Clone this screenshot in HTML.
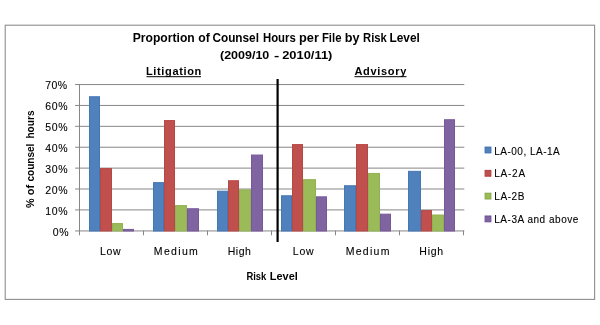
<!DOCTYPE html>
<html><head><meta charset="utf-8"><style>
html,body{margin:0;padding:0;background:#fff;}
svg{display:block;}
text{font-family:"Liberation Sans",sans-serif;fill:#000;}
svg{will-change:transform;}
</style></head><body>
<svg width="600" height="325" viewBox="0 0 600 325">
<rect x="5.2" y="25.2" width="589.4" height="274.2" fill="#fff" stroke="#8e8e8e" stroke-width="1.1"/>
<line x1="75.10" y1="209.91" x2="464.30" y2="209.91" stroke="#868686" stroke-width="1"/>
<line x1="75.10" y1="189.01" x2="464.30" y2="189.01" stroke="#868686" stroke-width="1"/>
<line x1="75.10" y1="168.12" x2="464.30" y2="168.12" stroke="#868686" stroke-width="1"/>
<line x1="75.10" y1="147.23" x2="464.30" y2="147.23" stroke="#868686" stroke-width="1"/>
<line x1="75.10" y1="126.34" x2="464.30" y2="126.34" stroke="#868686" stroke-width="1"/>
<line x1="75.10" y1="105.44" x2="464.30" y2="105.44" stroke="#868686" stroke-width="1"/>
<line x1="75.10" y1="84.55" x2="464.30" y2="84.55" stroke="#868686" stroke-width="1"/>
<line x1="75.10" y1="230.95" x2="464.30" y2="230.95" stroke="#868686" stroke-width="1"/>
<line x1="79.50" y1="230.5" x2="79.50" y2="235.3" stroke="#868686" stroke-width="1"/>
<line x1="143.50" y1="230.5" x2="143.50" y2="235.3" stroke="#868686" stroke-width="1"/>
<line x1="207.50" y1="230.5" x2="207.50" y2="235.3" stroke="#868686" stroke-width="1"/>
<line x1="271.50" y1="230.5" x2="271.50" y2="235.3" stroke="#868686" stroke-width="1"/>
<line x1="335.50" y1="230.5" x2="335.50" y2="235.3" stroke="#868686" stroke-width="1"/>
<line x1="399.50" y1="230.5" x2="399.50" y2="235.3" stroke="#868686" stroke-width="1"/>
<line x1="463.50" y1="230.5" x2="463.50" y2="235.3" stroke="#868686" stroke-width="1"/>
<rect x="89.5" y="96.75" width="10" height="134.25" fill="#4F81BD" stroke="#4676B3" stroke-width="1"/>
<rect x="100.5" y="168.62" width="11" height="62.38" fill="#C0504D" stroke="#B64844" stroke-width="1"/>
<rect x="112.5" y="223.57" width="10" height="7.43" fill="#9BBB59" stroke="#92B152" stroke-width="1"/>
<rect x="123.5" y="229.42" width="10" height="1.58" fill="#8064A2" stroke="#76599A" stroke-width="1"/>
<rect x="153.5" y="182.62" width="10" height="48.38" fill="#4F81BD" stroke="#4676B3" stroke-width="1"/>
<rect x="164.5" y="120.57" width="10" height="110.43" fill="#C0504D" stroke="#B64844" stroke-width="1"/>
<rect x="175.5" y="205.60" width="11" height="25.40" fill="#9BBB59" stroke="#92B152" stroke-width="1"/>
<rect x="187.5" y="208.74" width="11" height="22.26" fill="#8064A2" stroke="#76599A" stroke-width="1"/>
<rect x="217.5" y="191.19" width="10" height="39.81" fill="#4F81BD" stroke="#4676B3" stroke-width="1"/>
<rect x="228.5" y="180.74" width="10" height="50.26" fill="#C0504D" stroke="#B64844" stroke-width="1"/>
<rect x="239.5" y="189.93" width="11" height="41.07" fill="#9BBB59" stroke="#92B152" stroke-width="1"/>
<rect x="251.5" y="155.04" width="11" height="75.96" fill="#8064A2" stroke="#76599A" stroke-width="1"/>
<rect x="281.5" y="195.78" width="10" height="35.22" fill="#4F81BD" stroke="#4676B3" stroke-width="1"/>
<rect x="292.5" y="144.59" width="10" height="86.41" fill="#C0504D" stroke="#B64844" stroke-width="1"/>
<rect x="303.5" y="179.69" width="12" height="51.31" fill="#9BBB59" stroke="#92B152" stroke-width="1"/>
<rect x="316.5" y="196.83" width="10" height="34.17" fill="#8064A2" stroke="#76599A" stroke-width="1"/>
<rect x="344.5" y="185.75" width="11" height="45.25" fill="#4F81BD" stroke="#4676B3" stroke-width="1"/>
<rect x="356.5" y="144.59" width="11" height="86.41" fill="#C0504D" stroke="#B64844" stroke-width="1"/>
<rect x="368.5" y="173.43" width="11" height="57.57" fill="#9BBB59" stroke="#92B152" stroke-width="1"/>
<rect x="380.5" y="214.17" width="10" height="16.83" fill="#8064A2" stroke="#76599A" stroke-width="1"/>
<rect x="408.5" y="171.34" width="12" height="59.66" fill="#4F81BD" stroke="#4676B3" stroke-width="1"/>
<rect x="421.5" y="210.62" width="10" height="20.38" fill="#C0504D" stroke="#B64844" stroke-width="1"/>
<rect x="432.5" y="215.00" width="11" height="16.00" fill="#9BBB59" stroke="#92B152" stroke-width="1"/>
<rect x="444.5" y="119.73" width="10" height="111.27" fill="#8064A2" stroke="#76599A" stroke-width="1"/>
<line x1="79.5" y1="84.05" x2="79.5" y2="231.4" stroke="#868686" stroke-width="1"/>
<line x1="277.6" y1="79" x2="277.6" y2="242" stroke="#000" stroke-width="2.2"/>
<line x1="146.5" y1="76.7" x2="201" y2="76.7" stroke="#000" stroke-width="1"/>
<line x1="354.5" y1="76.7" x2="406.5" y2="76.7" stroke="#000" stroke-width="1"/>
<rect x="485.1" y="147.10" width="5.8" height="5.8" fill="#4F81BD" stroke="#3A6BAD" stroke-width="1"/>
<rect x="485.1" y="170.40" width="5.8" height="5.8" fill="#C0504D" stroke="#B03C3A" stroke-width="1"/>
<rect x="485.1" y="193.20" width="5.8" height="5.8" fill="#9BBB59" stroke="#86A846" stroke-width="1"/>
<rect x="485.1" y="216.00" width="5.8" height="5.8" fill="#8064A2" stroke="#6C4E96" stroke-width="1"/>
<text x="163.75" y="41.5" font-size="12" font-weight="bold" text-anchor="middle" textLength="61.94" lengthAdjust="spacingAndGlyphs">Proportion</text>
<text x="204.15" y="41.5" font-size="12" font-weight="bold" text-anchor="middle" textLength="11.52" lengthAdjust="spacingAndGlyphs">of</text>
<text x="235.7" y="41.5" font-size="12" font-weight="bold" text-anchor="middle" textLength="46.52" lengthAdjust="spacingAndGlyphs">Counsel</text>
<text x="279.35" y="41.5" font-size="12" font-weight="bold" text-anchor="middle" textLength="32.73" lengthAdjust="spacingAndGlyphs">Hours</text>
<text x="309.0" y="41.5" font-size="12" font-weight="bold" text-anchor="middle" textLength="19.85" lengthAdjust="spacingAndGlyphs">per</text>
<text x="331.7" y="41.5" font-size="12" font-weight="bold" text-anchor="middle" textLength="19.48" lengthAdjust="spacingAndGlyphs">File</text>
<text x="352.1" y="41.5" font-size="12" font-weight="bold" text-anchor="middle" textLength="14.76" lengthAdjust="spacingAndGlyphs">by</text>
<text x="375.0" y="41.5" font-size="12" font-weight="bold" text-anchor="middle" textLength="23.78" lengthAdjust="spacingAndGlyphs">Risk</text>
<text x="404.65" y="41.5" font-size="12" font-weight="bold" text-anchor="middle" textLength="30.29" lengthAdjust="spacingAndGlyphs">Level</text>
<text x="220.02" y="58.9" font-size="11" font-weight="bold" text-anchor="start" textLength="49.28" lengthAdjust="spacingAndGlyphs">(2009/10</text>
<text x="274.13" y="58.9" font-size="11" font-weight="bold" text-anchor="start" textLength="5.31" lengthAdjust="spacingAndGlyphs">-</text>
<text x="282.21" y="58.9" font-size="11" font-weight="bold" text-anchor="start" textLength="50.16" lengthAdjust="spacingAndGlyphs">2010/11)</text>
<text x="145.96" y="74.5" font-size="11" font-weight="bold" text-anchor="start" textLength="55.36" lengthAdjust="spacing">Litigation</text>
<text x="354.43" y="74.5" font-size="11" font-weight="bold" text-anchor="start" textLength="51.9" lengthAdjust="spacing">Advisory</text>
<text x="246.41" y="280.1" font-size="10.5" font-weight="bold" text-anchor="start" textLength="19.88" lengthAdjust="spacingAndGlyphs">Risk</text>
<text x="269.78" y="280.1" font-size="10.5" font-weight="bold" text-anchor="start" textLength="28.02" lengthAdjust="spacingAndGlyphs">Level</text>
<text x="100.02" y="255.2" font-size="10.5" font-weight="normal" text-anchor="start" stroke="#000" stroke-width="0.1" textLength="20.66" lengthAdjust="spacing">Low</text>
<text x="153.84" y="255.2" font-size="10.5" font-weight="normal" text-anchor="start" stroke="#000" stroke-width="0.1" textLength="44.03" lengthAdjust="spacing">Medium</text>
<text x="227.84" y="255.2" font-size="10.5" font-weight="normal" text-anchor="start" stroke="#000" stroke-width="0.1" textLength="22.91" lengthAdjust="spacing">High</text>
<text x="292.87" y="255.2" font-size="10.5" font-weight="normal" text-anchor="start" stroke="#000" stroke-width="0.1" textLength="20.63" lengthAdjust="spacing">Low</text>
<text x="345.7" y="255.2" font-size="10.5" font-weight="normal" text-anchor="start" stroke="#000" stroke-width="0.1" textLength="43.72" lengthAdjust="spacing">Medium</text>
<text x="419.36" y="255.2" font-size="10.5" font-weight="normal" text-anchor="start" stroke="#000" stroke-width="0.1" textLength="23.68" lengthAdjust="spacing">High</text>
<text x="52.73" y="236.35" font-size="10.5" font-weight="normal" text-anchor="start" stroke="#000" stroke-width="0.1" textLength="15.77" lengthAdjust="spacing">0%</text>
<text x="45.13" y="215.35" font-size="10.5" font-weight="normal" text-anchor="start" stroke="#000" stroke-width="0.1" textLength="22.47" lengthAdjust="spacing">10%</text>
<text x="45.13" y="194.35" font-size="10.5" font-weight="normal" text-anchor="start" stroke="#000" stroke-width="0.1" textLength="22.47" lengthAdjust="spacing">20%</text>
<text x="45.13" y="173.35" font-size="10.5" font-weight="normal" text-anchor="start" stroke="#000" stroke-width="0.1" textLength="22.47" lengthAdjust="spacing">30%</text>
<text x="45.13" y="152.35" font-size="10.5" font-weight="normal" text-anchor="start" stroke="#000" stroke-width="0.1" textLength="22.47" lengthAdjust="spacing">40%</text>
<text x="45.13" y="131.35" font-size="10.5" font-weight="normal" text-anchor="start" stroke="#000" stroke-width="0.1" textLength="22.47" lengthAdjust="spacing">50%</text>
<text x="45.13" y="110.35" font-size="10.5" font-weight="normal" text-anchor="start" stroke="#000" stroke-width="0.1" textLength="22.47" lengthAdjust="spacing">60%</text>
<text x="45.34" y="89.35" font-size="10.5" font-weight="normal" text-anchor="start" stroke="#000" stroke-width="0.1" textLength="21.77" lengthAdjust="spacing">70%</text>
<text transform="translate(33.8,207.9) rotate(-90)" font-size="10.5" font-weight="bold" textLength="9.6" lengthAdjust="spacingAndGlyphs">%</text>
<text transform="translate(33.8,195.2) rotate(-90)" font-size="10.5" font-weight="bold" textLength="10.3" lengthAdjust="spacingAndGlyphs">of</text>
<text transform="translate(33.8,181.6) rotate(-90)" font-size="10.5" font-weight="bold" textLength="38.0" lengthAdjust="spacingAndGlyphs">counsel</text>
<text transform="translate(33.8,138.6) rotate(-90)" font-size="10.5" font-weight="bold" textLength="28.2" lengthAdjust="spacingAndGlyphs">hours</text>
<text x="494.24" y="154.6" font-size="10" font-weight="normal" text-anchor="start" stroke="#000" stroke-width="0.1" textLength="65.5" lengthAdjust="spacing">LA-00, LA-1A</text>
<text x="494.24" y="177.4" font-size="10" font-weight="normal" text-anchor="start" stroke="#000" stroke-width="0.1" textLength="30.84" lengthAdjust="spacing">LA-2A</text>
<text x="494.24" y="200.2" font-size="10" font-weight="normal" text-anchor="start" stroke="#000" stroke-width="0.1" textLength="30.22" lengthAdjust="spacing">LA-2B</text>
<text x="494.24" y="223.1" font-size="10" font-weight="normal" text-anchor="start" stroke="#000" stroke-width="0.1" textLength="84.09" lengthAdjust="spacing">LA-3A and above</text>
</svg>
</body></html>
